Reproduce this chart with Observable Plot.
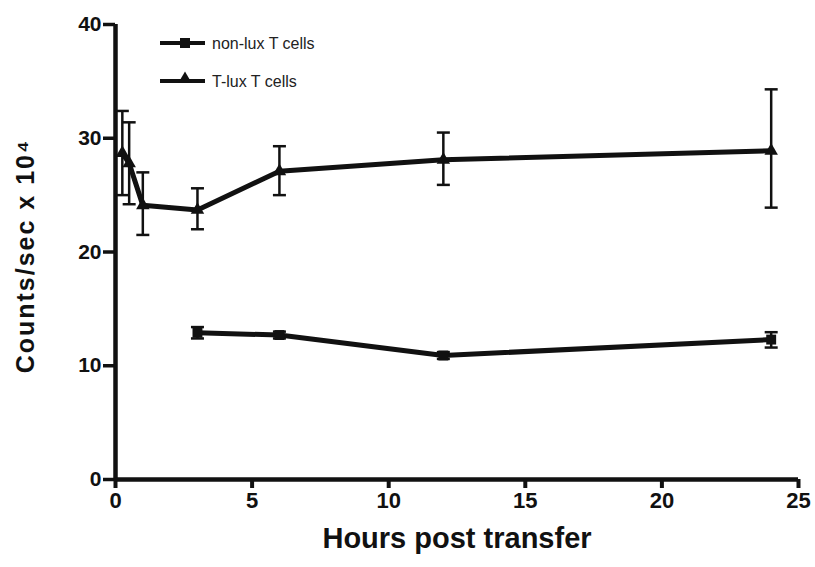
<!DOCTYPE html>
<html><head><meta charset="utf-8">
<script src="https://cdn.jsdelivr.net/npm/d3@7"></script>
<script src="https://cdn.jsdelivr.net/npm/@observablehq/plot@0.6"></script>
<style>
body{margin:0;background:#fff;}
#wrap{position:relative;width:815px;height:567px;}
#legend{position:absolute;left:0;top:0;}
</style></head><body><div id="wrap"></div>
<script>
// ---- data ----
const tluxHours = [0.25, 0.5, 1, 3, 6, 12, 24];
const tluxMean  = [28.7, 27.8, 24.1, 23.7, 27.1, 28.1, 28.9];
const tluxLow   = [25.0, 24.2, 21.5, 22.0, 25.0, 25.9, 23.9];
const tluxHigh  = [32.4, 31.4, 27.0, 25.6, 29.3, 30.5, 34.3];
const nonluxHours = [3, 6, 12, 24];
const nonluxMean  = [12.9, 12.7, 10.9, 12.3];
const nonluxLow   = [12.4, 12.4, 10.6, 11.6];
const nonluxHigh  = [13.4, 13.0, 11.2, 12.95];
const xTicks = [0, 5, 10, 15, 20, 25];
const yTicks = [0, 10, 20, 30, 40];
const seriesNames = ["non-lux T cells", "T-lux T cells"];
const xTitle = "Hours post transfer";
const yTitle = "Counts/sec x 10\u2074";

const rows = [];
nonluxHours.forEach((t, i) => rows.push({series: seriesNames[0], t, mean: nonluxMean[i], lo: nonluxLow[i], hi: nonluxHigh[i]}));
tluxHours.forEach((t, i) => rows.push({series: seriesNames[1], t, mean: tluxMean[i], lo: tluxLow[i], hi: tluxHigh[i]}));
const nonlux = rows.filter(d => d.series === seriesNames[0]);
const tlux = rows.filter(d => d.series === seriesNames[1]);

const capSymbol = {draw(ctx, size) { const w = Math.sqrt(size / Math.PI); ctx.moveTo(-w, 0); ctx.lineTo(w, 0); }};

const chart = Plot.plot({
  width: 815, height: 567,
  marginLeft: 115, marginRight: 17, marginTop: 24, marginBottom: 88,
  style: {fontFamily: "'Liberation Sans', Arial, sans-serif", fontWeight: "bold", color: "#111", background: "#fff"},
  x: {domain: [0, 25]},
  y: {domain: [0, 40]},
  marks: [
    Plot.axisY({ticks: yTicks, tickSize: 12, tickPadding: 2, fontSize: 21, strokeWidth: 3.5, label: null}),
    Plot.axisX({ticks: xTicks, tickSize: 9, tickPadding: 4, fontSize: 22, strokeWidth: 4, label: null}),
    Plot.ruleX([0], {strokeWidth: 4.5}),
    Plot.ruleY([0], {strokeWidth: 4.5}),
    Plot.ruleX(rows, {x: "t", y1: "lo", y2: "hi", strokeWidth: 2.5}),
    Plot.dot(rows, {x: "t", y: "lo", symbol: capSymbol, r: 6.5, stroke: "#111", strokeWidth: 2.5, fill: "none"}),
    Plot.dot(rows, {x: "t", y: "hi", symbol: capSymbol, r: 6.5, stroke: "#111", strokeWidth: 2.5, fill: "none"}),
    Plot.line(rows, {x: "t", y: "mean", z: "series", strokeWidth: 5, stroke: "#111"}),
    Plot.dot(nonlux, {x: "t", y: "mean", symbol: "square", r: 5.6, fill: "#111", stroke: "none"}),
    Plot.dot(tlux, {x: "t", y: "mean", symbol: "triangle", r: 5, fill: "#111", stroke: "none"}),
    Plot.text([xTitle], {frameAnchor: "bottom", dy: 68, fontSize: 29, fontWeight: "bold", fill: "#111"}),
    Plot.text([yTitle], {frameAnchor: "left", textAnchor: "middle", dx: -90, dy: 4, rotate: -90, fontSize: 25, fontWeight: "bold", fill: "#111"})
  ]
});
d3.select(chart).selectAll("text").filter(function() { return this.textContent === yTitle; }).attr("letter-spacing", "2px");
const wrap = document.getElementById("wrap");
wrap.appendChild(chart);

// legend overlay
const ns = "http://www.w3.org/2000/svg";
const leg = document.createElementNS(ns, "svg");
leg.setAttribute("id", "legend");
leg.setAttribute("width", 360); leg.setAttribute("height", 100);
const rowsY = [43, 81];
seriesNames.forEach((name, i) => {
  const y = rowsY[i];
  const ln = document.createElementNS(ns, "line");
  ln.setAttribute("x1", 160); ln.setAttribute("x2", 205); ln.setAttribute("y1", y); ln.setAttribute("y2", y);
  ln.setAttribute("stroke", "#111"); ln.setAttribute("stroke-width", 4);
  leg.appendChild(ln);
  const sym = document.createElementNS(ns, "path");
  sym.setAttribute("d", d3.symbol(i === 0 ? d3.symbolSquare : d3.symbolTriangle, i === 0 ? 100 : 75)());
  sym.setAttribute("transform", `translate(185,${i === 0 ? y : y - 2})`);
  sym.setAttribute("fill", "#111");
  leg.appendChild(sym);
  const tx = document.createElementNS(ns, "text");
  tx.setAttribute("x", 212); tx.setAttribute("y", y + 5.5);
  tx.setAttribute("font-family", "'Liberation Sans', Arial, sans-serif");
  tx.setAttribute("font-size", 16);
  tx.setAttribute("fill", "#222");
  tx.textContent = name;
  leg.appendChild(tx);
});
wrap.appendChild(leg);
</script></body></html>
